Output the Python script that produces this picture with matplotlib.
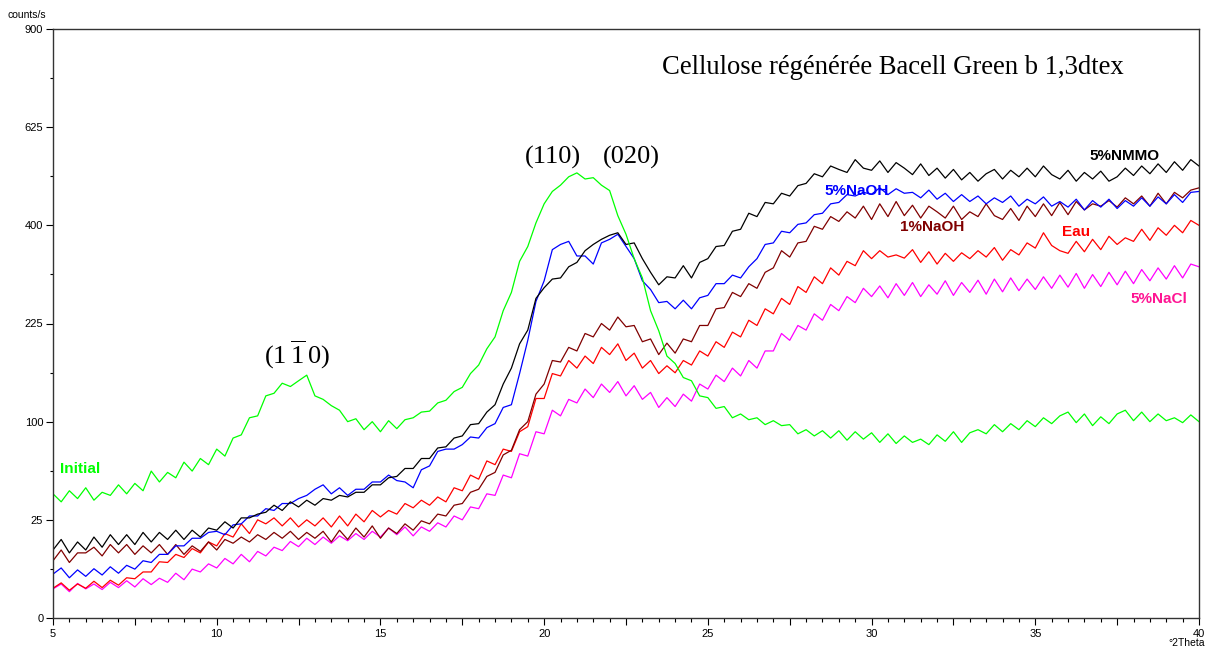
import numpy as np
import matplotlib
matplotlib.use("Agg")
import matplotlib.pyplot as plt
from matplotlib.ticker import FixedLocator, MultipleLocator, FuncFormatter

# 2-theta positions (degrees), step 0.25
two_theta = np.arange(5.0, 40.0001, 0.25)

initial = [40, 35, 42, 37, 44, 36, 41, 39, 46, 40, 47, 42, 56, 48, 55, 51,
           63, 56, 66, 61, 74, 68, 84, 87, 104, 106, 128, 131, 143, 139, 146, 153,
           128, 124, 117, 112, 100, 103, 92, 100, 90, 101, 93, 102, 104, 110, 111, 120,
           123, 133, 138, 155, 166, 188, 205, 245, 275, 330, 358, 405, 445, 472, 486, 505,
           514, 500, 503, 486, 474, 420, 382, 335, 300, 245, 214, 178, 168, 150, 146, 128,
           126, 114, 116, 104, 108, 102, 104, 97, 101, 96, 97, 88, 92, 86, 91, 84,
           91, 82, 90, 83, 89, 80, 88, 79, 86, 80, 83, 78, 87, 81, 90, 80,
           89, 92, 88, 97, 90, 98, 92, 101, 95, 104, 98, 106, 110, 99, 108, 96,
           105, 98, 108, 112, 101, 110, 100, 108, 101, 104, 99, 107, 100]

nmmo_5 = [12, 16, 11, 15, 12, 17, 13, 18, 14, 18, 14, 19, 15, 19, 16, 20,
          16, 20, 17, 21, 20, 24, 21, 26, 26, 28, 29, 33, 30, 35, 32, 36,
          33, 37, 36, 39, 38, 41, 41, 46, 46, 51, 52, 58, 58, 66, 66, 75,
          76, 84, 86, 97, 98, 110, 118, 142, 162, 195, 215, 265, 283, 298, 300, 320,
          328, 350, 362, 372, 380, 385, 362, 365, 335, 310, 288, 302, 300, 322, 300, 328,
          335, 358, 360, 388, 392, 425, 418, 448, 445, 468, 462, 485, 490, 512, 505, 530,
          522, 515, 545, 525, 520, 542, 515, 538, 525, 510, 535, 508, 525, 502, 522, 498,
          515, 495, 512, 522, 500, 520, 505, 525, 505, 530, 510, 500, 520, 495, 515, 500,
          518, 495, 505, 525, 508, 530, 512, 535, 515, 540, 520, 545, 530]

naoh_5 = [5, 6.5, 4.2, 6, 4.5, 6.3, 4.8, 6.8, 5.2, 7.2, 6.2, 8.5, 8, 10.5, 10.5, 13.5,
          13.5, 16.5, 16.5, 19, 19.5, 18, 22.5, 23, 27, 27, 31, 30, 34, 34, 37, 39,
          43, 46, 40, 44, 39, 43, 43, 48, 48, 53, 49, 48, 44, 57, 60, 72,
          74, 74, 78, 85, 84, 94, 98, 115, 118, 155, 200, 260, 295, 352, 362, 368,
          340, 340, 325, 365, 372, 382, 358, 335, 295, 280, 258, 260, 248, 262, 248, 266,
          270, 290, 290, 305, 300, 320, 335, 362, 365, 388, 385, 402, 405, 422, 425, 445,
          448, 465, 462, 470, 466, 480, 465, 478, 468, 470, 458, 475, 455, 468, 450, 465,
          450, 462, 445, 458, 448, 462, 440, 455, 445, 460, 440, 450, 438, 455, 432, 452,
          438, 455, 435, 452, 440, 458, 440, 460, 445, 465, 448, 470, 472]

naoh_1 = [8.5, 12, 8, 11, 11, 13, 10, 14, 11, 14, 10.5, 13.5, 11, 14, 10.5, 14,
          10.5, 13.5, 11.5, 15, 12, 16, 14.5, 17, 15, 18, 16, 19, 16.5, 19.5, 16, 19,
          16.5, 19.5, 15, 20, 16, 21, 17, 22, 16.5, 21, 18.5, 23, 20, 24.5, 23, 28,
          27, 33, 34, 41, 43, 52, 55, 69, 73, 92, 100, 130, 142, 172, 170, 190,
          185, 210, 205, 225, 215, 235, 220, 222, 198, 202, 180, 196, 182, 202, 198, 222,
          222, 248, 250, 275, 268, 290, 282, 310, 318, 350, 338, 365, 368, 398, 392, 418,
          408, 428, 415, 440, 412, 445, 418, 450, 420, 442, 415, 440, 428, 415, 440, 412,
          428, 418, 445, 420, 412, 435, 410, 440, 418, 445, 420, 448, 422, 450, 432, 445,
          440, 452, 438, 458, 445, 462, 440, 468, 445, 470, 458, 475, 480]

eau = [2.3, 3.2, 2.0, 3.0, 2.3, 3.5, 2.4, 3.7, 2.8, 4.2, 4.0, 5.5, 5.5, 8.2, 8.0, 10.5,
       9.5, 12.5, 11, 15, 13.5, 18.5, 17, 23, 18.5, 25, 23, 26, 22, 26, 21.5, 25,
       22, 26, 21.5, 27, 22, 28, 24, 30, 26.5, 30, 28, 34, 31.5, 36, 33, 38,
       35, 44, 42, 53, 50, 64, 61, 74, 72, 90, 95, 125, 125, 155, 152, 172,
       162, 178, 168, 190, 180, 195, 172, 182, 162, 172, 155, 165, 156, 172, 166, 185,
       178, 198, 190, 212, 205, 230, 222, 248, 240, 265, 255, 285, 275, 302, 290, 318,
       305, 330, 322, 350, 335, 350, 338, 342, 336, 352, 328, 348, 325, 345, 330, 346,
       335, 350, 338, 356, 332, 352, 342, 365, 355, 385, 360, 350, 345, 368, 348, 372,
       352, 378, 362, 375, 368, 392, 370, 395, 380, 400, 385, 410, 400]

nacl_5 = [2.2, 3.0, 1.8, 3.1, 2.2, 3.0, 2.1, 3.3, 2.4, 3.6, 2.5, 4.0, 2.9, 4.1, 3.3, 5.2,
          3.8, 6.2, 5.5, 7.6, 6.5, 9.2, 7.6, 10.5, 8.2, 11.5, 10, 13, 11.8, 15.2, 13.2, 16.5,
          14, 17, 14.5, 17.5, 15.5, 18.5, 16, 19.5, 17, 21, 18, 21.5, 17.5, 21.5, 19.5, 23.5,
          21.5, 27, 25, 32, 31, 40, 39, 53, 51, 70, 68, 90, 88, 112, 106, 124,
          120, 136, 126, 142, 132, 145, 128, 140, 124, 132, 115, 126, 116, 130, 122, 142,
          136, 153, 145, 162, 152, 172, 162, 185, 185, 210, 200, 222, 215, 240, 230, 255,
          245, 268, 258, 282, 268, 286, 266, 290, 270, 292, 268, 288, 272, 295, 270, 292,
          275, 296, 272, 298, 276, 300, 278, 298, 280, 302, 282, 305, 284, 308, 282, 306,
          285, 310, 288, 312, 290, 315, 295, 318, 298, 322, 300, 325, 320]

series_names = ["5%NaCl", "Eau", "1%NaOH", "5%NaOH", "5%NMMO", "Initial"]
series_values = [nacl_5, eau, naoh_1, naoh_5, nmmo_5, initial]
series_colors = ["#ff00ff", "#ff0000", "#800000", "#0000ff", "#000000", "#00ff00"]

y_ticks = [0, 25, 100, 225, 400, 625, 900]

fig = plt.figure(figsize=(12.06, 6.47), dpi=100)
ax = fig.add_axes([53 / 1206, 1 - 618 / 647, (1199 - 53) / 1206, (618 - 29) / 647])

for vals, col in zip(series_values, series_colors):
    ax.plot(two_theta, vals, color=col, lw=0.9)

ax.set_yscale('function', functions=(lambda v: np.sqrt(np.clip(v, 0, None)), np.square))
ax.set_xlim(5, 40)
ax.set_ylim(0, 900)
ax.yaxis.set_major_locator(FixedLocator(y_ticks))
ax.yaxis.set_minor_locator(FixedLocator([((np.sqrt(a) + np.sqrt(b)) / 2) ** 2
                                         for a, b in zip(y_ticks[:-1], y_ticks[1:])]))
ax.yaxis.set_major_formatter(FuncFormatter(lambda v, p: f"{int(round(v))}"))
ax.xaxis.set_major_locator(MultipleLocator(2.5))
ax.xaxis.set_minor_locator(MultipleLocator(0.5))
ax.xaxis.set_major_formatter(FuncFormatter(lambda v, p: f"{int(round(v))}" if abs(v / 5 - round(v / 5)) < 1e-6 else ""))

for lab in ax.get_xticklabels() + ax.get_yticklabels():
    lab.set_fontfamily("Liberation Sans")
    lab.set_fontsize(8)
ax.tick_params(axis='x', which='major', length=5, width=0.8, pad=3)
ax.tick_params(axis='x', which='minor', length=3, width=0.8)
ax.tick_params(axis='y', which='major', length=5, width=0.8, pad=2)
ax.tick_params(axis='y', which='minor', length=2, width=0.8)
for s in ax.spines.values():
    s.set_linewidth(1.0)
    s.set_color("#333333")

fig.text(8 / 1206, 1 - 15 / 647, "counts/s", fontsize=7.5, family="Liberation Sans", va='center', ha='left')
fig.text(1168 / 1206, 1 - 638 / 647, "°2Theta", fontsize=7.5, family="Liberation Sans", va='top', ha='left')

ax.text(23.6, 785, "Cellulose régénérée Bacell Green b 1,3dtex", family="Liberation Serif",
        fontsize=19.2, ha='left', va='center')
serif = dict(family="Liberation Serif", fontsize=19, ha='center', va='center')
ax.text(20.27, 551, "(110)", **serif)
ax.text(22.65, 551, "(020)", **serif)
ax.text(12.45, 180, r"(1$\,\mathregular{\overline{1}}\,$0)", **serif)

lab = dict(family="Liberation Sans", fontsize=11, fontweight='bold', ha='left', va='center')
ax.text(5.21, 57.6, "Initial", color="#00ff00", **lab)
ax.text(36.66, 554, "5%NMMO", color="#000000", **lab)
ax.text(28.57, 473, "5%NaOH", color="#0000ff", **lab)
ax.text(30.86, 397, "1%NaOH", color="#800000", **lab)
ax.text(35.81, 387, "Eau", color="#ff0000", **lab)
ax.text(37.92, 264, "5%NaCl", color="#ff1493", **lab)

fig.savefig("out.png", dpi=100)
